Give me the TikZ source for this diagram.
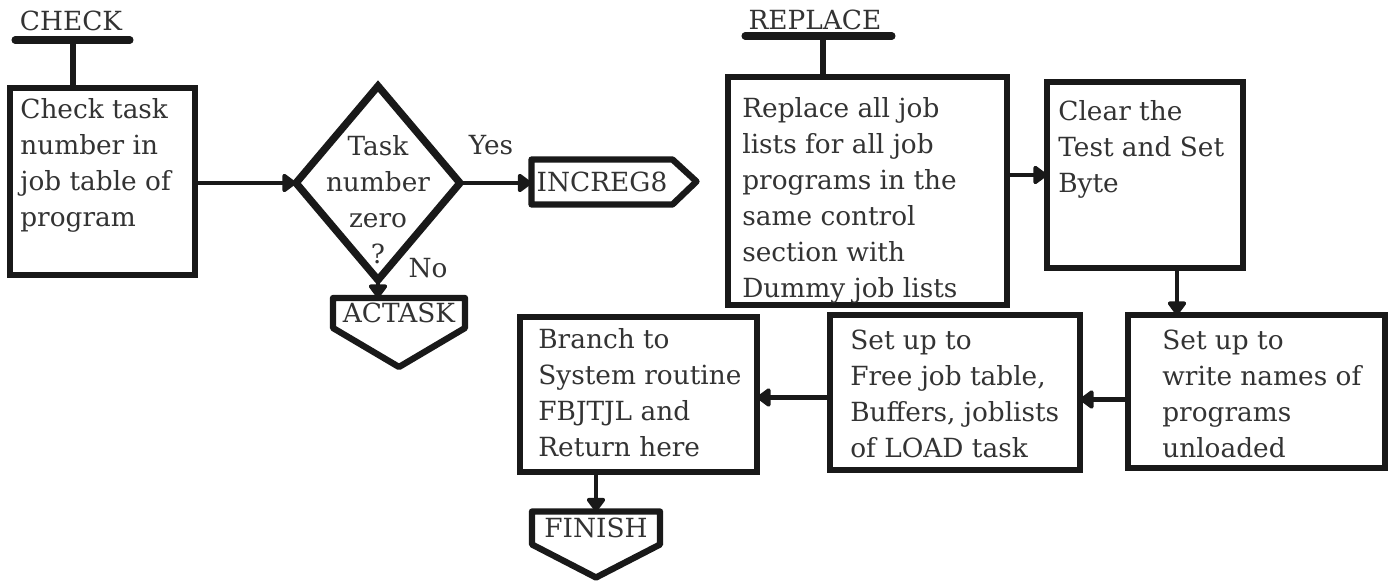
\documentclass[tikz,border=0pt]{standalone}
\usepackage{fontspec}
\setmainfont{DejaVu Serif}
\usetikzlibrary{arrows.meta,positioning,shapes.geometric}

\tikzset{
  box/.style={draw=black!90, line width=3.8pt, inner sep=0pt, outer sep=0pt, anchor=north west},
  dia/.style={diamond, draw=black!90, line width=4.2pt, inner sep=0pt, outer sep=0pt},
  txt/.style={inner sep=0pt, align=left, text=black!80, font=\fontsize{15}{20.5}\selectfont},
  term/.style={inner sep=0pt, outer sep=0pt, text=black!80, font=\fontsize{15}{20.5}\selectfont},
  edge/.style={draw=black!90, line width=3.6pt, line join=round},
  flow/.style={draw=black!90, line width=2.8pt, -{Triangle[length=0.3cm,width=0.42cm,round]}},
  bar/.style={draw=black!90, line width=4pt, line cap=round},
}

\begin{document}
\begin{tikzpicture}[x=0.02cm, y=-0.02cm]
\useasboundingbox (0,0) rectangle (1390,581);

% CHECK entry
\node[term, anchor=base] (chklbl) at (71,31) {CHECK};
\draw[bar] (15,40) -- (130,40);
\coordinate (chkbar) at (73,40);

\node[box, minimum width=3.7cm, minimum height=3.74cm] (check) at (10,88) {};
\node[txt, below right=0.2cm and 0.2cm of check.north west] (checktxt)
  {Check task\\number in\\job table of\\program};

\node[dia, minimum width=3.28cm, minimum height=3.88cm] (dec) at (378,183) {};
\node[term, align=center, below=0.98cm of dec.north] (dectxt) {Task\\number\\zero\\?};
\node[term] (yes) at (491,145) {Yes};
\node[term] (no) at (428,268) {No};

% exits
\node[term, minimum width=2.82cm, minimum height=0.9cm] (incr) at (602,182) {INCREG8};
\draw[edge] (incr.north west) -- (incr.north east) -- ++(24,22) -- (incr.south east)
  -- (incr.south west) -- cycle;
\node[term, minimum width=2.64cm, minimum height=0.6cm] (act) at (399,313) {ACTASK};
\draw[edge] (act.north west) -- (act.north east) -- (act.south east)
  -- ([yshift=-0.78cm]act.south) -- (act.south west) -- cycle;

\draw[bar, line width=3.6pt, line cap=butt] (chkbar) -- (chkbar |- check.north);
\draw[flow] (check.east |- dec.west) -- (dec.west);
\draw[flow] (dec.east) -- (dec.east -| incr.west);
\draw[flow] (dec.south) -- (dec.south |- act.north);

% REPLACE entry
\node[term, anchor=base] (replbl) at (815,30) {REPLACE};
\draw[bar] (745,36) -- (892,36);
\coordinate (repbar) at (823,36);

\node[box, minimum width=5.58cm, minimum height=4.56cm] (repl) at (728,77) {};
\node[txt, below right=0.4cm and 0.28cm of repl.north west] (repltxt)
  {Replace all job\\lists for all job\\programs in the\\same control\\section with\\Dummy job lists};

\node[box, minimum width=3.92cm, minimum height=3.72cm] (clear) at (1047,82) {};
\node[txt, below right=0.36cm and 0.22cm of clear.north west] (cleartxt)
  {Clear the\\Test and Set\\Byte};

\node[box, minimum width=5.14cm, minimum height=3.06cm] (write) at (1128,315) {};
\node[txt, below right=0.3cm and 0.68cm of write.north west] (writetxt)
  {Set up to\\write names of\\programs\\unloaded};

\node[box, minimum width=5.0cm, minimum height=3.1cm] (free) at (830,315) {};
\node[txt, below right=0.3cm and 0.4cm of free.north west] (freetxt)
  {Set up to\\Free job table,\\Buffers, joblists\\of LOAD task};

\node[box, minimum width=4.74cm, minimum height=3.1cm] (branch) at (520,317) {};
\node[txt, below right=0.22cm and 0.36cm of branch.north west] (branchtxt)
  {Branch to\\System routine\\FBJTJL and\\Return here};

\node[term, minimum width=2.56cm, minimum height=0.66cm] (fin) at (596,528) {FINISH};
\draw[edge] (fin.north west) -- (fin.north east) -- (fin.south east)
  -- ([yshift=-0.66cm]fin.south) -- (fin.south west) -- cycle;

\coordinate (cw) at (1177,0);
\draw[bar, line width=3.6pt, line cap=butt] (repbar) -- (repbar |- repl.north);
\draw[flow] (repl.east |- clear.west) -- (clear.west);
\draw[flow] (clear.south -| cw) -- (write.north -| cw);
\draw[flow] ([yshift=-0.16cm]write.west) -- ([yshift=-0.16cm]write.west -| free.east);
\draw[flow] ([yshift=-0.1cm]free.west) -- ([yshift=-0.1cm]free.west -| branch.east);
\draw[flow] (fin.north |- branch.south) -- (fin.north);
\end{tikzpicture}
\end{document}
